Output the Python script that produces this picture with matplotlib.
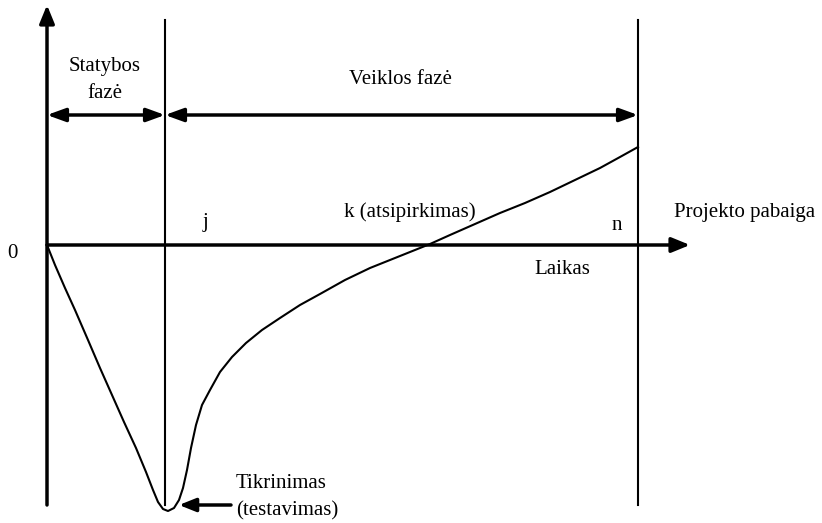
import matplotlib.pyplot as plt

plt.rcParams['font.family'] = ['Liberation Serif', 'DejaVu Serif']

# cash-flow curve (pixel-space schematic, y grows downward)
curve_x = [47, 55, 65, 75, 88, 100, 112, 124, 136, 146, 153, 158, 163, 168, 174, 179,
           183, 187, 191, 196, 202, 210, 220, 232, 246, 262, 280, 300, 320, 345,
           370, 395, 415, 430, 450, 475, 500, 525, 550, 575, 600, 620, 638]
curve_y = [245, 265, 288, 310, 340, 368, 395, 422, 448, 472, 490, 502, 509, 511, 508, 500,
           488, 470, 448, 425, 405, 390, 372, 357, 343, 330, 318, 305, 294, 280,
           268, 258, 250, 244, 235, 224, 213, 203, 192, 180, 168, 157, 147]

origin = (47, 245)
phase_x = [47, 165, 638]
axis_end_x = 690
axis_top_y = 5
bottom_y = 505

labels = {
    "Statybos\nfazė": (105, 80),
    "Veiklos fazė": (400, 80),
    "j": (205, 222),
    "k (atsipirkimas)": (410, 212),
    "n": (617, 225),
    "Projekto pabaiga": (745, 212),
    "Laikas": (562, 270),
    "0": (12, 254),
}

fig = plt.figure(figsize=(8.22, 5.23), dpi=100)
ax = fig.add_axes([0, 0, 1, 1])
ax.set_xlim(0, 822)
ax.set_ylim(523, 0)
ax.axis('off')

arrow = dict(arrowstyle='-|>,head_length=1.1,head_width=0.45', color='black', lw=2.5,
             shrinkA=0, shrinkB=0)
# axes
ax.annotate('', xy=(phase_x[0], axis_top_y), xytext=(phase_x[0], bottom_y), arrowprops=arrow)
ax.annotate('', xy=(axis_end_x, origin[1]), xytext=origin, arrowprops=arrow)

# phase boundaries
for x in phase_x[1:]:
    ax.plot([x, x], [20, bottom_y], color='black', lw=1.5)

# phase arrows
dbl = dict(arrowstyle='<|-|>,head_length=1.1,head_width=0.4', color='black', lw=2.5,
           shrinkA=0, shrinkB=0)
for a, b in zip(phase_x[:-1], phase_x[1:]):
    ax.annotate('', xy=(b, 115), xytext=(a, 115), arrowprops=dbl)

ax.plot(curve_x, curve_y, color='black', lw=1.5)

for txt, (x, y) in labels.items():
    ax.text(x, y, txt, ha='center', va='center', fontsize=15, linespacing=1.55)

# testing point
ax.annotate('', xy=(179, 505), xytext=(231, 505),
            arrowprops=dict(arrowstyle='-|>,head_length=1.0,head_width=0.4', color='black',
                            lw=2.5, shrinkA=0, shrinkB=0))
ax.text(236, 497, 'Tikrinimas\n(testavimas)', ha='left', va='center', fontsize=15,
        linespacing=1.55)

fig.savefig('out.png', dpi=100)
